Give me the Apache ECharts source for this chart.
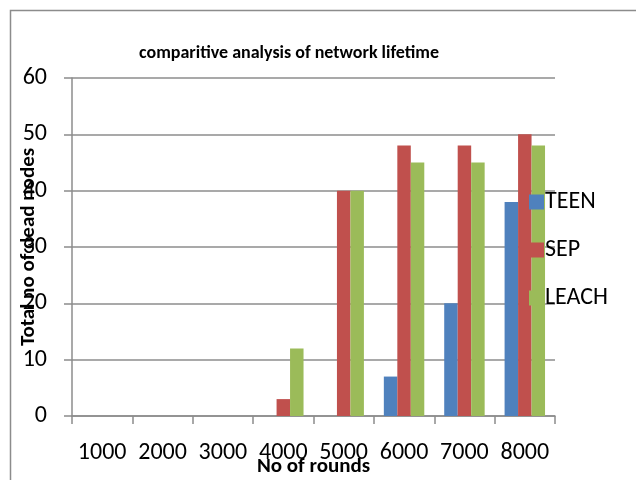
<!DOCTYPE html>
<html>
<head>
<meta charset="utf-8">
<script src="https://cdn.jsdelivr.net/npm/echarts@6/dist/echarts.min.js"></script>
<style>
  html, body { margin: 0; padding: 0; background: #fff; }
  #chart { width: 636px; height: 480px; }
</style>
</head>
<body>
<div id="chart"></div>
<script>
var rounds = ['1000', '2000', '3000', '4000', '5000', '6000', '7000', '8000'];
var teen = [0, 0, 0, 0, 0, 7, 20, 38];
var sep = [0, 0, 0, 3, 40, 48, 48, 50];
var leach = [0, 0, 0, 12, 40, 45, 45, 48];

var font = 'Carlito, Lato, sans-serif';
var chart = echarts.init(document.getElementById('chart'));

var option = {
  animation: false,
  color: ['#4F81BD', '#C0504D', '#9BBB59'],
  title: {
    text: 'comparitive analysis of network lifetime',
    left: 284,
    textAlign: 'center',
    top: 39,
    textStyle: { fontFamily: font, fontSize: 18, fontWeight: 'bold', color: '#000' }
  },
  graphic: [{
    type: 'rect',
    shape: { x: 10.5, y: 10.5, width: 700, height: 600 },
    style: { fill: 'none', stroke: '#8c8c8c', lineWidth: 1.5 },
    silent: true
  }],
  legend: {
    orient: 'vertical',
    left: 524,
    top: 185,
    itemWidth: 15,
    itemHeight: 15,
    itemGap: 24,
    icon: 'rect',
    textStyle: { fontFamily: font, fontSize: 24, lineHeight: 24, color: '#000', padding: [0, 0, 0, -4] },
    data: ['TEEN', 'SEP', 'LEACH']
  },
  grid: { left: 72, right: 81, top: 78, bottom: 64, outerBoundsMode: 'none' },
  xAxis: {
    type: 'category',
    data: rounds,
    name: 'No of rounds',
    nameLocation: 'middle',
    nameGap: 40,
    nameMoveOverlap: false,
    nameTextStyle: { fontFamily: font, fontSize: 21, fontWeight: 'bold', color: '#000' },
    axisLine: { lineStyle: { color: '#8c8c8c', width: 1.5 } },
    axisTick: { show: true, length: 8, alignWithLabel: false, lineStyle: { color: '#8c8c8c', width: 1.5 } },
    axisLabel: { fontFamily: font, fontSize: 24, color: '#000', margin: 25, interval: 0 }
  },
  yAxis: {
    type: 'value',
    min: 0,
    max: 60,
    interval: 10,
    name: 'Total no of dead nodes',
    nameLocation: 'middle',
    nameGap: 33,
    nameRotate: 90,
    nameMoveOverlap: false,
    nameTextStyle: { fontFamily: font, fontSize: 21, fontWeight: 'bold', color: '#000' },
    axisLine: { show: true, lineStyle: { color: '#8c8c8c', width: 1.5 } },
    axisTick: { show: true, length: 8, lineStyle: { color: '#8c8c8c', width: 1.5 } },
    axisLabel: { fontFamily: font, fontSize: 24, color: '#000', margin: 25 },
    splitLine: { lineStyle: { color: '#8c8c8c', width: 1.5 } }
  },
  series: [
    { name: 'TEEN', type: 'bar', data: teen, barGap: '0%', barCategoryGap: '33%' },
    { name: 'SEP', type: 'bar', data: sep, barGap: '0%', barCategoryGap: '33%' },
    { name: 'LEACH', type: 'bar', data: leach, barGap: '0%', barCategoryGap: '33%' }
  ]
};

chart.setOption(option);
</script>
</body>
</html>
